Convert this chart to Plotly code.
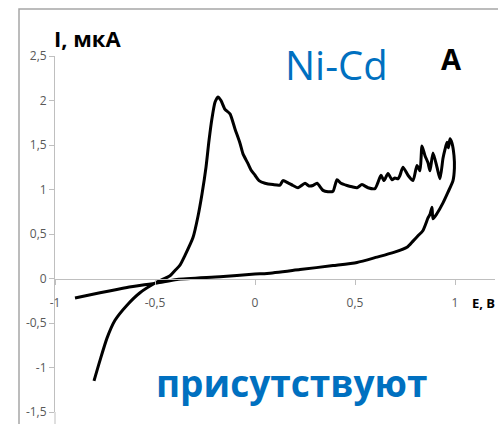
import plotly.graph_objects as go

# Cyclic voltammogram, Ni-Cd sample: potential E (V) and current I (uA), in scan order
potential_v = [
    -0.805, -0.775, -0.74, -0.70, -0.64, -0.575, -0.49, -0.425, -0.40, -0.375,
    -0.35, -0.31, -0.285, -0.265, -0.245, -0.23, -0.215, -0.20, -0.185, -0.17,
    -0.15, -0.125, -0.10, -0.075, -0.06, -0.035, -0.02, 0.0, 0.02, 0.05,
    0.09, 0.125, 0.14, 0.165, 0.19, 0.215, 0.25, 0.27, 0.29, 0.31,
    0.34, 0.365, 0.39, 0.41, 0.43, 0.46, 0.485, 0.51, 0.535, 0.565,
    0.60, 0.615, 0.63, 0.645, 0.665, 0.685, 0.70, 0.715, 0.725, 0.74,
    0.765, 0.79, 0.81, 0.825, 0.835, 0.85, 0.865, 0.875, 0.89, 0.91,
    0.925, 0.94, 0.95, 0.96, 0.967, 0.975, 0.985, 0.995, 0.997, 0.99,
    0.965, 0.94, 0.91, 0.89, 0.885, 0.875, 0.865, 0.84, 0.815, 0.79,
    0.76, 0.69, 0.61, 0.51, 0.39, 0.225, 0.06, 0.0, -0.175, -0.39,
    -0.49, -0.64, -0.775, -0.90,
]
current_ua = [
    -1.15, -0.92, -0.67, -0.47, -0.30, -0.16, -0.04, 0.03, 0.09, 0.15,
    0.26, 0.46, 0.70, 0.95, 1.25, 1.55, 1.80, 1.98, 2.04, 2.00,
    1.90, 1.85, 1.68, 1.52, 1.40, 1.29, 1.22, 1.16, 1.10, 1.07,
    1.055, 1.05, 1.10, 1.075, 1.045, 1.02, 1.07, 1.04, 1.045, 1.07,
    0.99, 0.975, 0.98, 1.11, 1.07, 1.045, 1.03, 1.02, 1.055, 1.02,
    1.01, 1.08, 1.16, 1.10, 1.18, 1.11, 1.13, 1.12, 1.16, 1.25,
    1.16, 1.10, 1.27, 1.21, 1.49, 1.38, 1.30, 1.21, 1.41, 1.25,
    1.12, 1.35, 1.45, 1.53, 1.47, 1.57, 1.52, 1.38, 1.24, 1.10,
    0.97, 0.85, 0.73, 0.67, 0.80, 0.72, 0.68, 0.54, 0.48, 0.42,
    0.35, 0.29, 0.24, 0.18, 0.145, 0.10, 0.056, 0.05, 0.02, -0.01,
    -0.05, -0.10, -0.16, -0.22,
]

x_ticks = [-1, -0.5, 0, 0.5, 1]
x_tick_text = ["-1", "-0,5", "0", "0,5", "1"]
y_ticks = [-1.5, -1, -0.5, 0, 0.5, 1, 1.5, 2, 2.5]
y_tick_text = ["-1,5", "-1", "-0,5", "0", "0,5", "1", "1,5", "2", "2,5"]

W, H = 498, 424
ML, MR, MT, MB = 55, 3, 56, 12
PW, PH = W - ML - MR, H - MT - MB


def px(xp):
    return (xp - ML) / PW


def py(yp):
    return (H - MB - yp) / PH


BLUE = "#0070C0"
AXIS_GREY = "#BFBFBF"
LABEL_GREY = "#595959"

fig = go.Figure()
fig.add_trace(go.Scatter(
    x=potential_v, y=current_ua, mode="lines",
    line=dict(color="black", width=3, shape="spline", smoothing=0.6),
    showlegend=False, hoverinfo="skip",
))

fig.update_layout(
    width=W, height=H,
    margin=dict(l=ML, r=MR, t=MT, b=MB, pad=0),
    paper_bgcolor="white", plot_bgcolor="white",
    font=dict(family="Open Sans", size=12, color=LABEL_GREY),
    xaxis=dict(
        range=[-1, 1.2], tickvals=x_ticks, ticktext=x_tick_text,
        showgrid=False, zeroline=False, showline=True, linecolor=AXIS_GREY,
        linewidth=1, ticks="outside", ticklen=5, tickcolor=AXIS_GREY,
        anchor="free", position=1.5 / 4, ticklabelstandoff=8,
        tickfont=dict(family="Open Sans", size=12, color=LABEL_GREY),
    ),
    yaxis=dict(
        range=[-1.5, 2.5], tickvals=y_ticks, ticktext=y_tick_text,
        showgrid=False, zeroline=False, showline=True, linecolor=AXIS_GREY,
        linewidth=1, ticks="outside", ticklen=5, tickcolor=AXIS_GREY,
        tickfont=dict(family="Open Sans", size=12, color=LABEL_GREY),
    ),
    shapes=[
        # outer chart frame
        dict(type="rect", xref="paper", yref="paper",
             x0=px(19), x1=px(520), y0=py(440), y1=py(9),
             line=dict(color="#A6A6A6", width=1.5), layer="below"),
        # vertical axis continues below the last tick
        dict(type="line", xref="paper", yref="paper",
             x0=0, x1=0, y0=py(430), y1=0,
             line=dict(color=AXIS_GREY, width=1)),
    ],
    annotations=[
        dict(text="<b>I, мкА</b>", xref="paper", yref="paper",
             x=px(52), y=py(38), xanchor="left", yanchor="middle",
             showarrow=False, font=dict(family="Open Sans", size=22, color="black")),
        dict(text="<b>E, В</b>", xref="paper", yref="paper",
             x=px(497), y=py(303), xanchor="right", yanchor="middle",
             showarrow=False, font=dict(family="Open Sans", size=13, color="black")),
        dict(text="Ni-Cd", xref="paper", yref="paper",
             x=px(336), y=py(64), xanchor="center", yanchor="middle",
             showarrow=False, font=dict(family="Open Sans", size=40, color=BLUE)),
        dict(text="<b>A</b>", xref="paper", yref="paper",
             x=px(451), y=py(58), xanchor="center", yanchor="middle",
             showarrow=False, font=dict(family="Open Sans", size=29, color="black")),
        dict(text="<b>присутствуют</b>", xref="paper", yref="paper",
             x=px(291), y=py(382), xanchor="center", yanchor="middle",
             showarrow=False, font=dict(family="Open Sans", size=37, color=BLUE)),
    ],
)

fig.write_html("out.html")
